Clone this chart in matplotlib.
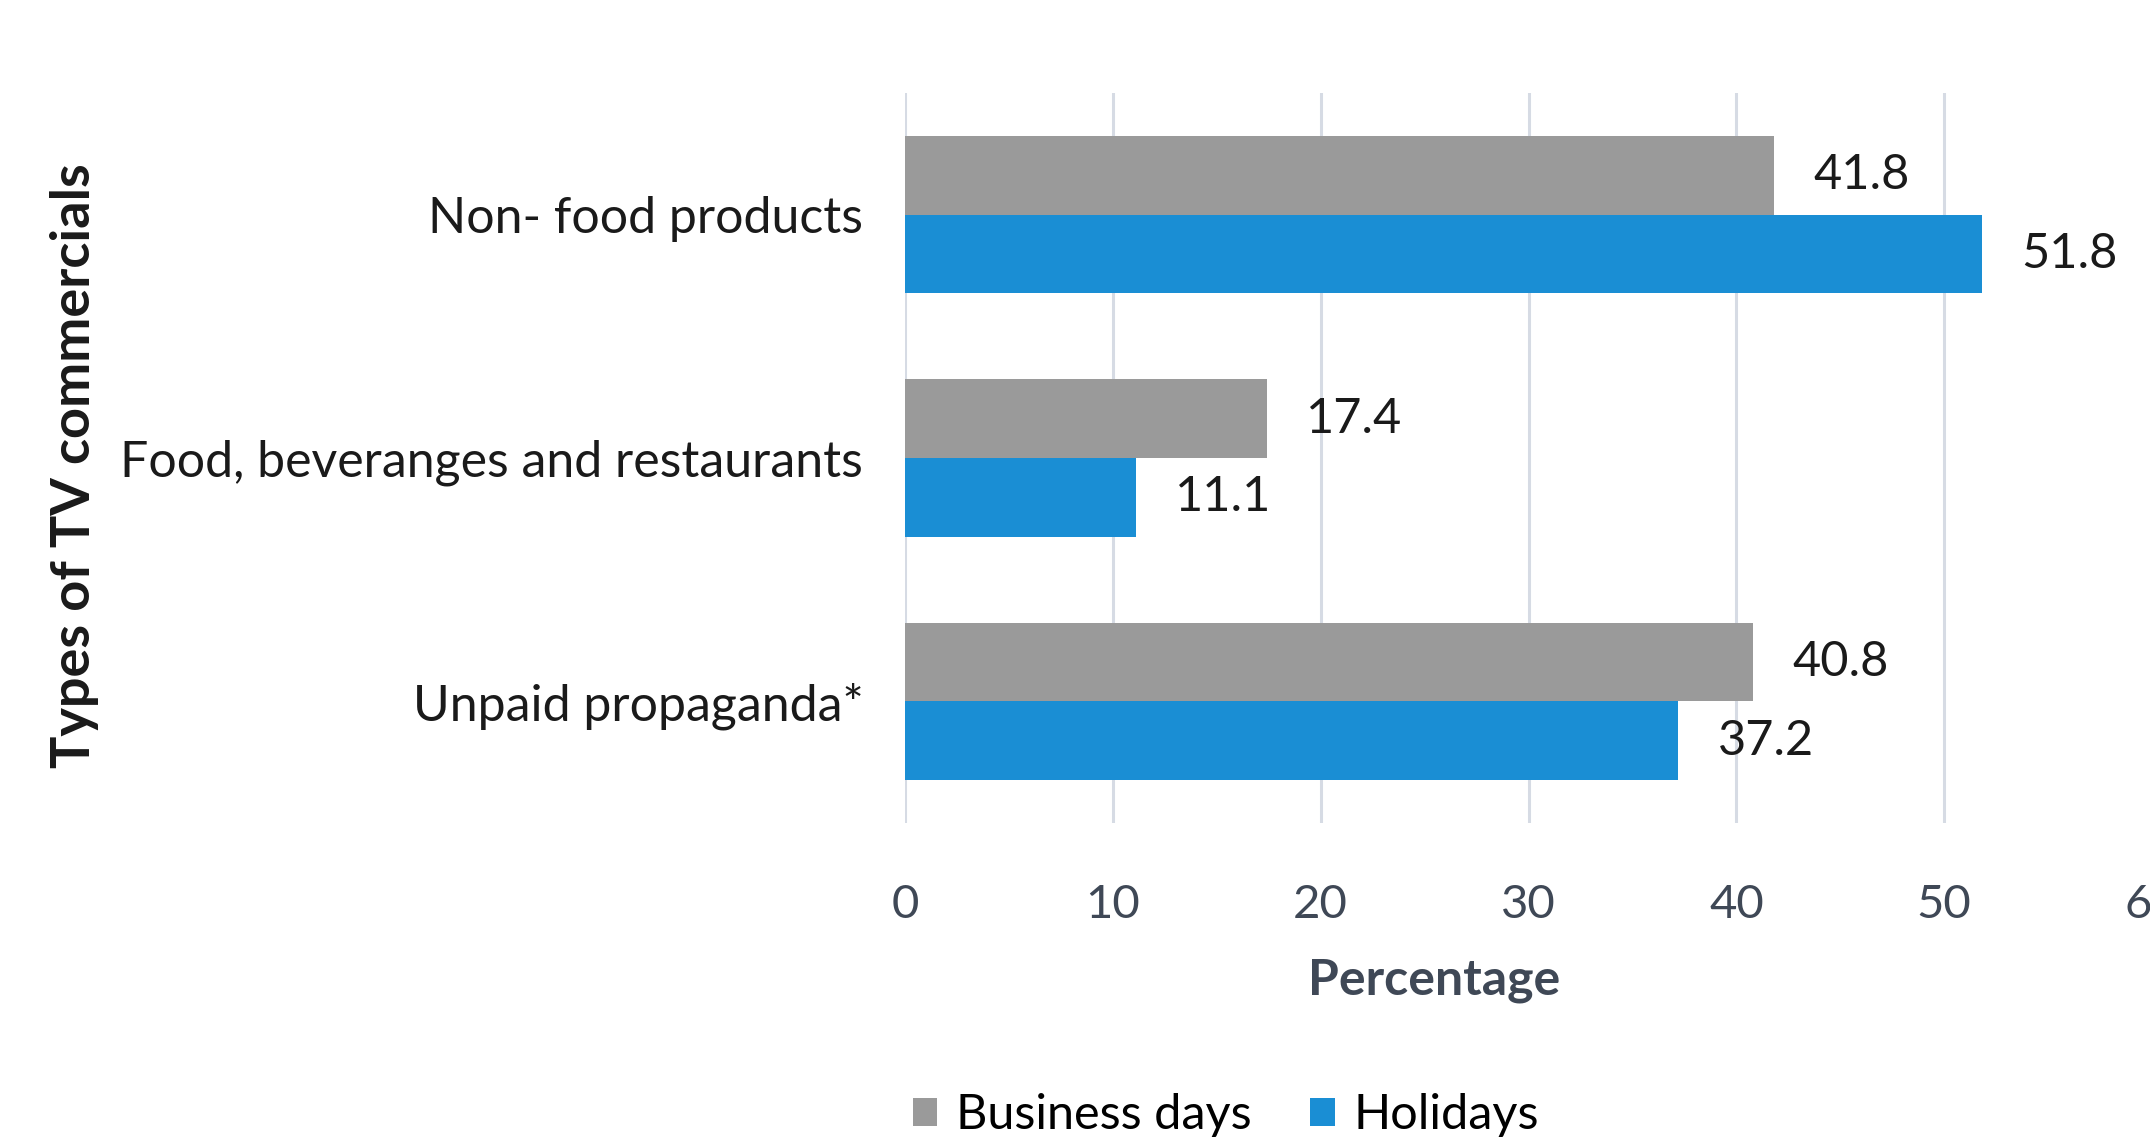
import matplotlib
matplotlib.use('Agg')
import matplotlib.pyplot as plt
import numpy as np

# --- data ---
categories = ['Non- food products', 'Food, beveranges and restaurants', 'Unpaid propaganda*']
business_days = [41.8, 17.4, 40.8]
holidays = [51.8, 11.1, 37.2]
x_ticks = [0, 10, 20, 30, 40, 50, 60]

gray = '#9a9a9a'
blue = '#1a8ed4'
grid_col = '#d6dbe4'
tick_col = '#3f4856'

plt.rcParams['font.family'] = ['Lato', 'DejaVu Sans']

fig = plt.figure(figsize=(21.5, 11.43), dpi=100)
ax = fig.add_axes([905 / 2150, 320 / 1143, 1247 / 2150, 730 / 1143])

y = np.arange(len(categories))
h = 0.323
ax.barh(y - h / 2, business_days, height=h, color=gray, label='Business days', zorder=3)
ax.barh(y + h / 2, holidays, height=h, color=blue, label='Holidays', zorder=3)

# value labels just right of bar ends
for yi, v in zip(y - h / 2, business_days):
    ax.text(v + 1.9, yi, f'{v:.1f}', va='center', ha='left', fontsize=35, color='#1a1a1a')
for yi, v in zip(y + h / 2, holidays):
    ax.text(v + 1.9, yi, f'{v:.1f}', va='center', ha='left', fontsize=35, color='#1a1a1a')

ax.set_xlim(0, 60)
ax.set_ylim(len(categories) - 0.5, -0.5)
ax.set_xticks(x_ticks)
ax.set_xticklabels([str(t) for t in x_ticks])
ax.set_yticks(y)
ax.set_yticklabels(categories)

ax.grid(axis='x', color=grid_col, linewidth=2.2, zorder=0)
ax.set_axisbelow(True)
for s in ax.spines.values():
    s.set_visible(False)

ax.tick_params(axis='x', length=0, pad=44, labelsize=34, labelcolor=tick_col)
ax.tick_params(axis='y', length=0, pad=30, labelsize=36, labelcolor='#1a1a1a')

ax.set_xlabel('Percentage', fontsize=36, fontweight='bold', color=tick_col)
ax.xaxis.set_label_coords((1434 - 905) / 1247, -0.185)

fig.text(75 / 2150, 1 - 466 / 1143, 'Types of TV commercials', rotation=90,
         ha='center', va='center', fontsize=39, fontweight='bold', color='#1a1a1a')

leg = fig.legend(loc='center', bbox_to_anchor=(1226 / 2150, 1 - 1115 / 1143), ncol=2,
                 frameon=False, fontsize=35, handlelength=0.5, handleheight=0.5,
                 handletextpad=0.4, columnspacing=1.2)

plt.savefig('out.png', dpi=100)
